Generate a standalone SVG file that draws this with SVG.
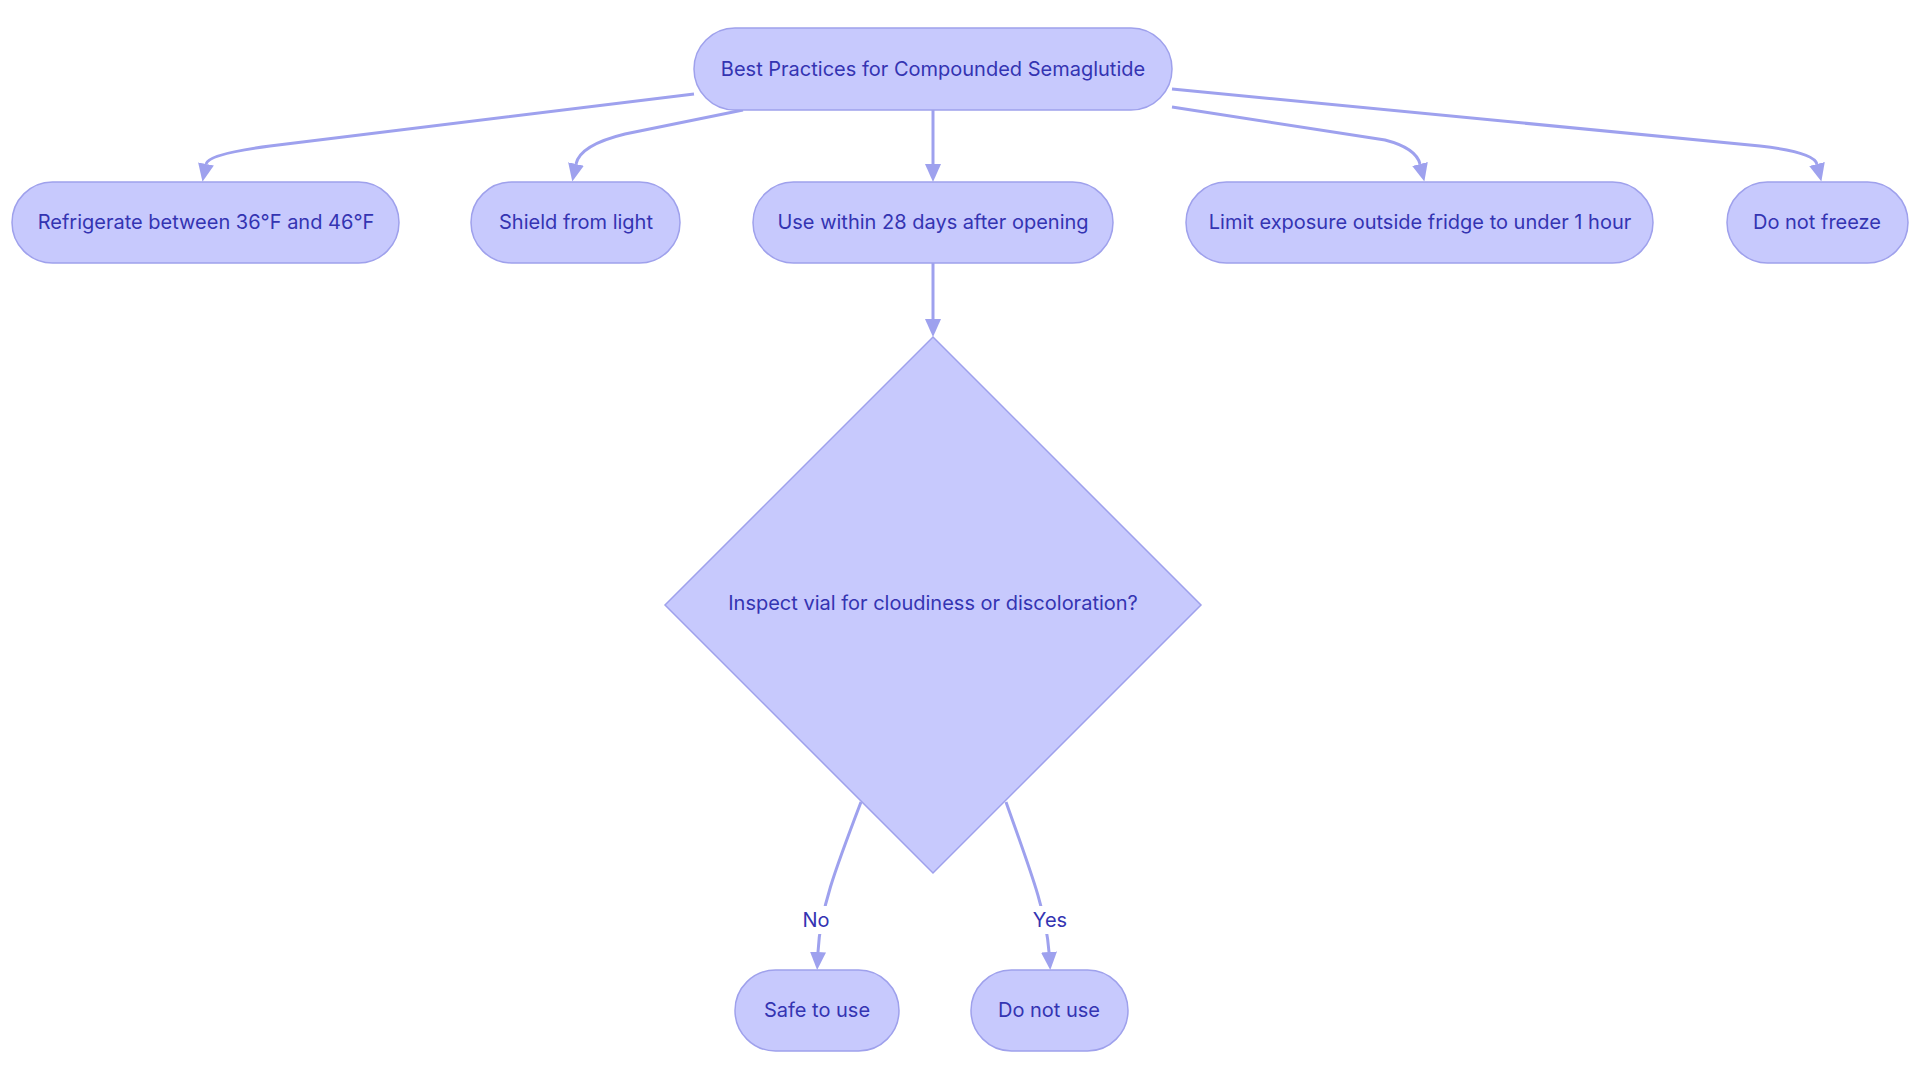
<svg xmlns="http://www.w3.org/2000/svg" width="1920" height="1083" viewBox="0 0 1920 1083">
<style>
.node rect, .node polygon { fill: #C7C9FD; stroke: #9FA1EC; stroke-width: 1.5; }
.node text, .lbl text { font-family: Inter, "Noto Sans", "Liberation Sans", sans-serif; font-size: 20px; fill: #3434B2; text-anchor: middle; dominant-baseline: central; }
.edges path { fill: none; stroke: #9EA1EE; stroke-width: 3; }
.lbl rect { fill: #FFFFFF; }
</style>
<defs>
<marker id="arr" viewBox="0 0 18 16" refX="0" refY="8" markerWidth="18" markerHeight="16" markerUnits="userSpaceOnUse" orient="auto">
<path d="M0,0 L18,8 L0,16 z" fill="#9EA1EE"/>
</marker>
</defs>
<rect width="1920" height="1083" fill="#FFFFFF"/>
<g class="edges">
<path d="M694,94 L270,146 Q208,154 206,164" marker-end="url(#arr)"/>
<path d="M743,110 L625,134 Q580,145 576,164" marker-end="url(#arr)"/>
<path d="M933,110 L933,164" marker-end="url(#arr)"/>
<path d="M1172,107 L1385,140 Q1416,148 1420,164" marker-end="url(#arr)"/>
<path d="M1172,89 L1760,146 Q1814,152 1817,164" marker-end="url(#arr)"/>
<path d="M933,263 L933,319" marker-end="url(#arr)"/>
<path d="M861,802 C835,870 820,910 818,952" marker-end="url(#arr)"/>
<path d="M1006,802 C1030,870 1046,910 1049,952" marker-end="url(#arr)"/>
</g>
<g class="lbl" id="label-no"><rect x="800" y="906" width="32" height="28"/><text x="816" y="920">No</text></g>
<g class="lbl" id="label-yes"><rect x="1030" y="906" width="40" height="28"/><text x="1050" y="920">Yes</text></g>
<g class="node" id="root"><rect x="694" y="28" width="478" height="82" rx="41"/><text x="933" y="69">Best Practices for Compounded Semaglutide</text></g>
<g class="node" id="refrigerate"><rect x="12" y="182" width="387" height="81" rx="40.5"/><text x="206" y="222">Refrigerate between 36°F and 46°F</text></g>
<g class="node" id="shield"><rect x="471" y="182" width="209" height="81" rx="40.5"/><text x="576" y="222">Shield from light</text></g>
<g class="node" id="use28"><rect x="753" y="182" width="360" height="81" rx="40.5"/><text x="933" y="222">Use within 28 days after opening</text></g>
<g class="node" id="limit"><rect x="1186" y="182" width="467" height="81" rx="40.5"/><text x="1420" y="222">Limit exposure outside fridge to under 1 hour</text></g>
<g class="node" id="freeze"><rect x="1727" y="182" width="181" height="81" rx="40.5"/><text x="1817" y="222">Do not freeze</text></g>
<g class="node" id="inspect"><polygon points="933,337 1201,605 933,873 665,605"/><text x="933" y="603">Inspect vial for cloudiness or discoloration?</text></g>
<g class="node" id="safe"><rect x="735" y="970" width="164" height="81" rx="40.5"/><text x="817" y="1010">Safe to use</text></g>
<g class="node" id="donotuse"><rect x="971" y="970" width="157" height="81" rx="40.5"/><text x="1049" y="1010">Do not use</text></g>
</svg>
